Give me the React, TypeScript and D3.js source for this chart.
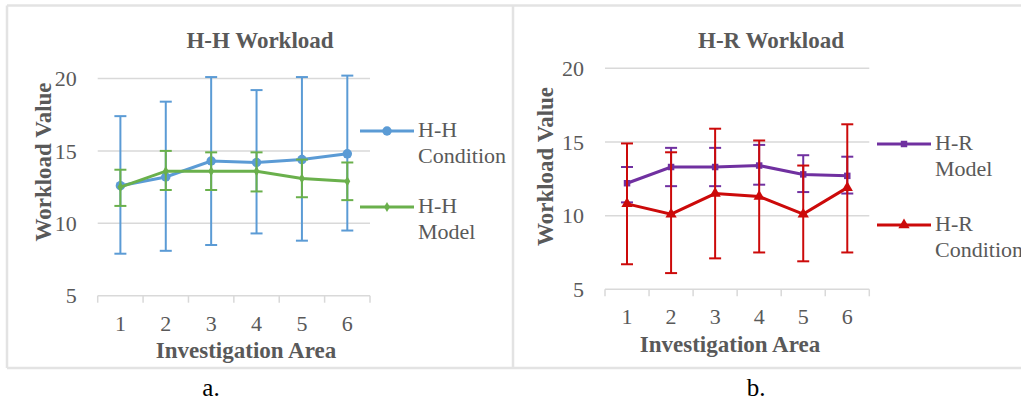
import React from "react";
import * as d3 from "d3";

const areas = ["1", "2", "3", "4", "5", "6"];
const yTicks = [5, 10, 15, 20];

// H-H panel
const hhCondition = [12.6, 13.2, 14.3, 14.2, 14.4, 14.8];
const hhConditionHi = [17.4, 18.4, 20.1, 19.2, 20.1, 20.2];
const hhConditionLo = [7.9, 8.1, 8.5, 9.3, 8.8, 9.5];
const hhModel = [12.5, 13.6, 13.6, 13.6, 13.1, 12.9];
const hhModelHi = [13.7, 15.0, 14.9, 14.9, 14.4, 14.2];
const hhModelLo = [11.2, 12.3, 12.3, 12.2, 11.8, 11.6];

// H-R panel
const hrModel = [12.2, 13.3, 13.3, 13.4, 12.8, 12.7];
const hrModelHi = [13.3, 14.6, 14.6, 14.8, 14.1, 14.0];
const hrModelLo = [10.9, 12.0, 12.0, 12.1, 11.6, 11.5];
const hrCondition = [10.8, 10.1, 11.5, 11.3, 10.1, 11.9];
const hrConditionHi = [14.9, 14.3, 15.9, 15.1, 13.4, 16.2];
const hrConditionLo = [6.7, 6.1, 7.1, 7.5, 6.9, 7.5];

const FONT = "'Liberation Serif', 'Times New Roman', serif";
const GRAY = "#595959";
const GRID = "#d9d9d9";

type Series = {
  name: string[];
  values: number[];
  hi: number[];
  lo: number[];
  color: string;
  symbol: d3.SymbolType;
  size: number;
  legendY: number;
};

type ChartProps = {
  title: string;
  titleX: number;
  xRange: [number, number];
  yRange: [number, number];
  xTitleX: number;
  yTitle: { x: number; y: number };
  legendX: number;
  series: Series[];
};

function Chart({ title, titleX, xRange, yRange, xTitleX, yTitle, legendX, series }: ChartProps) {
  const x = d3.scaleBand().domain(areas).range(xRange);
  const y = d3.scaleLinear().domain([5, 20]).range(yRange);
  const cx = (a: string) => (x(a) as number) + x.bandwidth() / 2;
  const line = d3
    .line<number>()
    .x((_, i) => cx(areas[i]))
    .y((d) => y(d));
  const axisY = y(5);
  const boundaries = [...areas.map((a) => x(a) as number), xRange[1]];

  return (
    <g fontFamily={FONT}>
      <text x={titleX} y={48} textAnchor="middle" fontWeight="bold" fontSize={23} fill={GRAY}>
        {title}
      </text>
      {yTicks.slice(1).map((t) => (
        <line key={t} x1={xRange[0]} x2={xRange[1]} y1={y(t)} y2={y(t)} stroke={GRID} strokeWidth={1.5} />
      ))}
      <line x1={xRange[0]} x2={xRange[1]} y1={axisY} y2={axisY} stroke={GRID} strokeWidth={1.5} />
      {boundaries.map((b, i) => (
        <line key={i} x1={b} x2={b} y1={axisY} y2={axisY + 7} stroke={GRID} strokeWidth={1.5} />
      ))}
      {yTicks.map((t) => (
        <text key={t} x={xRange[0] - 21} y={y(t)} dy="0.35em" textAnchor="end" fontSize={22} fill={GRAY}>
          {t}
        </text>
      ))}
      {areas.map((a) => (
        <text key={a} x={cx(a)} y={axisY + 35} textAnchor="middle" fontSize={22} fill={GRAY}>
          {a}
        </text>
      ))}
      <text x={xTitleX} y={axisY + 62.5} textAnchor="middle" fontWeight="bold" fontSize={23} fill={GRAY}>
        Investigation Area
      </text>
      <text
        transform={`translate(${yTitle.x},${yTitle.y}) rotate(-90)`}
        textAnchor="middle"
        fontWeight="bold"
        fontSize={23}
        fill={GRAY}
      >
        Workload Value
      </text>
      {series.map((s) => (
        <g key={s.name.join(" ")}>
          {s.values.map((_, i) => {
            const px = cx(areas[i]);
            return (
              <g key={i} stroke={s.color} strokeWidth={2}>
                <line x1={px} x2={px} y1={y(s.lo[i])} y2={y(s.hi[i])} />
                <line x1={px - 6} x2={px + 6} y1={y(s.lo[i])} y2={y(s.lo[i])} />
                <line x1={px - 6} x2={px + 6} y1={y(s.hi[i])} y2={y(s.hi[i])} />
              </g>
            );
          })}
          <path d={line(s.values) as string} fill="none" stroke={s.color} strokeWidth={3} />
          {s.values.map((v, i) => (
            <path
              key={i}
              transform={`translate(${cx(areas[i])},${y(v)})`}
              d={d3.symbol(s.symbol, s.size)() as string}
              fill={s.color}
            />
          ))}
          <line x1={legendX} x2={legendX + 54} y1={s.legendY} y2={s.legendY} stroke={s.color} strokeWidth={3} />
          <path
            transform={`translate(${legendX + 27},${s.legendY})`}
            d={d3.symbol(s.symbol, s.size)() as string}
            fill={s.color}
          />
          {s.name.map((n, j) => (
            <text key={j} x={legendX + 58} y={s.legendY + 6 + j * 25.5} fontSize={22} fill={GRAY}>
              {n}
            </text>
          ))}
        </g>
      ))}
    </g>
  );
}

export default function App() {
  const hhSeries: Series[] = [
    { name: ["H-H", "Condition"], values: hhCondition, hi: hhConditionHi, lo: hhConditionLo, color: "#5b9bd5", symbol: d3.symbolCircle, size: 70, legendY: 131 },
    { name: ["H-H", "Model"], values: hhModel, hi: hhModelHi, lo: hhModelLo, color: "#6ab04c", symbol: d3.symbolDiamond, size: 30, legendY: 207 },
  ];
  const hrSeries: Series[] = [
    { name: ["H-R", "Model"], values: hrModel, hi: hrModelHi, lo: hrModelLo, color: "#7030a0", symbol: d3.symbolSquare, size: 42, legendY: 144 },
    { name: ["H-R", "Condition"], values: hrCondition, hi: hrConditionHi, lo: hrConditionLo, color: "#cc0a0a", symbol: d3.symbolTriangle, size: 55, legendY: 225 },
  ];
  return (
    <svg width={1021} height={405} style={{ position: "absolute", left: 0, top: 0, background: "#fff" }}>
      <rect x={0} y={0} width={1021} height={405} fill="#fff" />
      <g stroke="#e3e3e3" strokeWidth={2.5} fill="none">
        <line x1={7} x2={1021} y1={5.5} y2={5.5} />
        <line x1={7} x2={7} y1={5.5} y2={368} />
        <line x1={513} x2={513} y1={5.5} y2={368} />
        <line x1={7} x2={1021} y1={368} y2={368} />
      </g>
      <Chart
        title="H-H Workload"
        titleX={260}
        xRange={[97.7, 370]}
        yRange={[295.7, 78.5]}
        xTitleX={246}
        yTitle={{ x: 51, y: 162 }}
        legendX={360}
        series={hhSeries}
      />
      <Chart
        title="H-R Workload"
        titleX={771}
        xRange={[605, 869.3]}
        yRange={[289.3, 68.3]}
        xTitleX={730}
        yTitle={{ x: 553, y: 166.5 }}
        legendX={877}
        series={hrSeries}
      />
      <text x={211} y={396} textAnchor="middle" fontFamily={FONT} fontSize={25} fill="#000">
        a.
      </text>
      <text x={756} y={396} textAnchor="middle" fontFamily={FONT} fontSize={25} fill="#000">
        b.
      </text>
    </svg>
  );
}
